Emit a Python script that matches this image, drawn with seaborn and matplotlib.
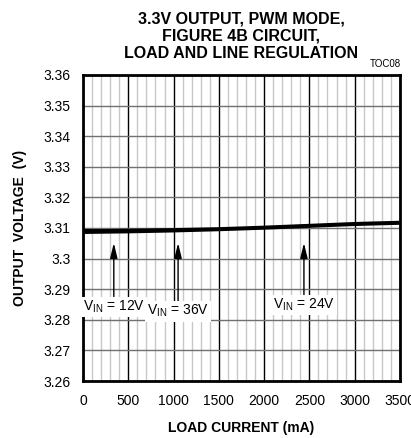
import numpy as np
import pandas as pd
import seaborn as sns
import matplotlib.pyplot as plt
from matplotlib.ticker import MultipleLocator

# === Data ===
load_ma = [0, 250, 500, 1000, 1500, 2000, 2500, 3000, 3500]
vout_12v = [3.3084, 3.3085, 3.3086, 3.3089, 3.3093, 3.3098, 3.3104, 3.3110, 3.3114]
vout_36v = [3.3089, 3.3089, 3.3090, 3.3092, 3.3096, 3.3101, 3.3107, 3.3113, 3.3117]
vout_24v = [3.3093, 3.3093, 3.3094, 3.3096, 3.3099, 3.3104, 3.3110, 3.3116, 3.3120]

labels = ["12V", "36V", "24V"]
arrow_x = [340, 1050, 2440]
arrow_tip = [3.3051, 3.3051, 3.3051]
label_y = [3.2842, 3.2828, 3.2848]

df = pd.DataFrame({
    "load": load_ma * 3,
    "vout": vout_12v + vout_36v + vout_24v,
    "vin": ["12V"] * 9 + ["36V"] * 9 + ["24V"] * 9,
})

# === Style ===
sns.set_style("white")
plt.rcParams["font.family"] = ["Liberation Sans Narrow", "Liberation Sans", "DejaVu Sans"]
plt.rcParams["mathtext.fontset"] = "custom"
plt.rcParams["mathtext.rm"] = "Liberation Sans"
plt.rcParams["mathtext.it"] = "Liberation Sans"
for key in ["text.color", "axes.labelcolor", "xtick.color", "ytick.color"]:
    plt.rcParams[key] = "black"

fig = plt.figure(figsize=(4.11, 4.38), dpi=100)
ax = fig.add_axes([0.202, 0.130, 0.771, 0.699])

sns.lineplot(data=df, x="load", y="vout", hue="vin",
             palette=["black"] * 3, linewidth=1.6, legend=False, ax=ax)

ax.set_xlim(0, 3500)
ax.set_ylim(3.26, 3.36)
ax.xaxis.set_minor_locator(MultipleLocator(100))
ax.set_xticks(range(0, 3501, 500))
ax.set_xticklabels([str(v) for v in range(0, 3501, 500)])
ax.set_yticks(np.round(np.arange(3.26, 3.3601, 0.01), 2))
ax.set_yticklabels(["3.26", "3.27", "3.28", "3.29", "3.3", "3.31",
                    "3.32", "3.33", "3.34", "3.35", "3.36"])

ax.grid(which="minor", axis="x", color="#c8c8c8", linewidth=1.0)
ax.grid(which="major", axis="x", color="black", linewidth=1.0)
ax.grid(which="major", axis="y", color="#707070", linewidth=1.0)
ax.set_axisbelow(True)
ax.tick_params(which="both", length=0, labelsize=10, pad=9)
for sp in ax.spines.values():
    sp.set_color("black")
    sp.set_linewidth(2.0)

ax.set_xlabel("LOAD CURRENT (mA)", fontsize=10, fontweight="bold", labelpad=10)
ax.set_ylabel("OUTPUT  VOLTAGE  (V)", fontsize=10, fontweight="bold", labelpad=12)
ax.set_title("3.3V OUTPUT, PWM MODE,\nFIGURE 4B CIRCUIT,\nLOAD AND LINE REGULATION",
             fontsize=11.5, fontweight="bold", linespacing=1.2, pad=12)
fig.text(0.975, 0.843, "TOC08", fontsize=7, ha="right", va="bottom")

# === Annotations ===
for lab, xa, yt, yl in zip(labels, arrow_x, arrow_tip, label_y):
    ax.annotate(r"V$_{\mathrm{IN}}$ = " + lab, xy=(xa, yt), xytext=(xa, yl),
                ha="center", va="center", fontsize=10,
                bbox=dict(boxstyle="square,pad=0.15", fc="white", ec="none"),
                arrowprops=dict(arrowstyle="-|>,head_length=0.9,head_width=0.22",
                                color="black", lw=1.0, shrinkA=0, shrinkB=0))

plt.savefig("out.png", dpi=100)
plt.close()
